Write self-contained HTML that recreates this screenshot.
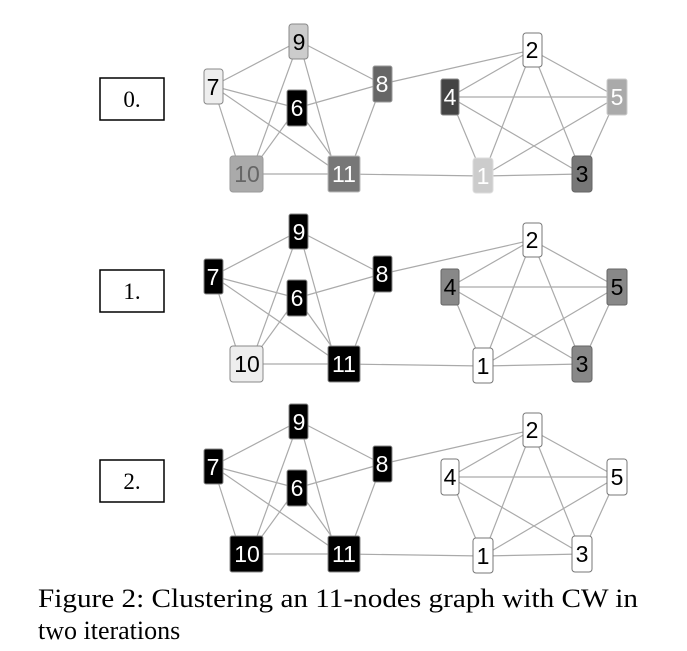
<!DOCTYPE html>
<html><head><meta charset="utf-8"><style>html,body{margin:0;padding:0;background:#fff}svg{display:block}</style></head>
<body>
<svg width="687" height="651" viewBox="0 0 687 651" xmlns="http://www.w3.org/2000/svg">
<defs>
<g id="edges" stroke="#aaa" stroke-width="1.2">
<line x1="299" y1="41" x2="213" y2="86"/><line x1="299" y1="41" x2="382" y2="84"/>
<line x1="299" y1="41" x2="252" y2="170"/><line x1="299" y1="41" x2="335" y2="170"/>
<line x1="213" y1="86" x2="297" y2="108"/><line x1="213" y1="86" x2="240" y2="170"/>
<line x1="213" y1="86" x2="335" y2="170"/><line x1="297" y1="108" x2="382" y2="84"/>
<line x1="297" y1="108" x2="252" y2="170"/><line x1="297" y1="108" x2="344" y2="174"/>
<line x1="382" y1="84" x2="350" y2="170"/><line x1="382" y1="84" x2="532" y2="50"/>
<line x1="247" y1="174" x2="344" y2="174"/><line x1="344" y1="174" x2="483" y2="176"/>
<line x1="532" y1="50" x2="450" y2="97"/><line x1="532" y1="50" x2="617" y2="97"/>
<line x1="532" y1="50" x2="483" y2="176"/><line x1="532" y1="50" x2="582" y2="174"/>
<line x1="450" y1="97" x2="617" y2="97"/><line x1="450" y1="97" x2="483" y2="176"/>
<line x1="450" y1="97" x2="582" y2="174"/><line x1="617" y1="97" x2="483" y2="176"/>
<line x1="617" y1="97" x2="582" y2="174"/><line x1="483" y1="176" x2="582" y2="174"/>
</g>
</defs>
<g font-family="Liberation Sans, sans-serif" font-size="23" text-anchor="middle">
<g>
<use href="#edges"/>
<rect x="289" y="24" width="19" height="35" rx="3" fill="#ccc" stroke="#888"/><text x="299" y="50" fill="#000">9</text>
<rect x="204" y="69" width="19" height="35" rx="3" fill="#eee" stroke="#888"/><text x="213" y="95" fill="#000">7</text>
<rect x="287" y="90" width="20" height="36" rx="2" fill="#000" stroke="#888"/><text x="297" y="116" fill="#fff">6</text>
<rect x="373" y="66" width="19" height="36" rx="2" fill="#666" stroke="#999"/><text x="382" y="92" fill="#fff">8</text>
<rect x="230" y="156" width="33" height="36" rx="3" fill="#aaa" stroke="#999"/><text x="247" y="182" fill="#666">10</text>
<rect x="328" y="156" width="32" height="36" rx="2" fill="#777" stroke="#bbb"/><text x="344" y="182" fill="#fff">11</text>
<rect x="523" y="33" width="19" height="34" rx="3" fill="#fff" stroke="#777"/><text x="532" y="58" fill="#000">2</text>
<rect x="441" y="79" width="18" height="36" rx="2" fill="#444" stroke="#888"/><text x="450" y="105" fill="#fff">4</text>
<rect x="607" y="79" width="20" height="36" rx="2" fill="#aaa" stroke="#ccc"/><text x="617" y="105" fill="#fff">5</text>
<rect x="473" y="158" width="20" height="35" rx="3" fill="#ccc" stroke="#ddd"/><text x="483" y="184" fill="#fff">1</text>
<rect x="572" y="156" width="20" height="36" rx="3" fill="#777" stroke="#666"/><text x="582" y="182" fill="#000">3</text>
</g>
<g transform="translate(0,190)">
<use href="#edges"/>
<rect x="289" y="24" width="19" height="35" rx="2" fill="#000" stroke="#888"/><text x="299" y="50" fill="#fff">9</text>
<rect x="204" y="69" width="19" height="35" rx="2" fill="#000" stroke="#888"/><text x="213" y="95" fill="#fff">7</text>
<rect x="287" y="90" width="20" height="36" rx="2" fill="#000" stroke="#888"/><text x="297" y="116" fill="#fff">6</text>
<rect x="373" y="66" width="19" height="36" rx="2" fill="#000" stroke="#888"/><text x="382" y="92" fill="#fff">8</text>
<rect x="230" y="156" width="33" height="36" rx="3" fill="#eee" stroke="#888"/><text x="247" y="182" fill="#000">10</text>
<rect x="328" y="156" width="32" height="36" rx="2" fill="#000" stroke="#888"/><text x="344" y="182" fill="#fff">11</text>
<rect x="523" y="33" width="19" height="34" rx="3" fill="#fff" stroke="#777"/><text x="532" y="58" fill="#000">2</text>
<rect x="441" y="79" width="18" height="36" rx="2" fill="#888" stroke="#666"/><text x="450" y="105" fill="#000">4</text>
<rect x="607" y="79" width="20" height="36" rx="2" fill="#888" stroke="#666"/><text x="617" y="105" fill="#000">5</text>
<rect x="473" y="158" width="20" height="35" rx="3" fill="#fff" stroke="#777"/><text x="483" y="184" fill="#000">1</text>
<rect x="572" y="156" width="20" height="36" rx="3" fill="#888" stroke="#666"/><text x="582" y="182" fill="#000">3</text>
</g>
<g transform="translate(0,380)">
<use href="#edges"/>
<rect x="289" y="24" width="19" height="35" rx="2" fill="#000" stroke="#888"/><text x="299" y="50" fill="#fff">9</text>
<rect x="204" y="69" width="19" height="35" rx="2" fill="#000" stroke="#888"/><text x="213" y="95" fill="#fff">7</text>
<rect x="287" y="90" width="20" height="36" rx="2" fill="#000" stroke="#888"/><text x="297" y="116" fill="#fff">6</text>
<rect x="373" y="66" width="19" height="36" rx="2" fill="#000" stroke="#888"/><text x="382" y="92" fill="#fff">8</text>
<rect x="230" y="156" width="33" height="36" rx="2" fill="#000" stroke="#888"/><text x="247" y="182" fill="#fff">10</text>
<rect x="328" y="156" width="32" height="36" rx="2" fill="#000" stroke="#888"/><text x="344" y="182" fill="#fff">11</text>
<rect x="523" y="33" width="19" height="34" rx="3" fill="#fff" stroke="#777"/><text x="532" y="58" fill="#000">2</text>
<rect x="441" y="79" width="18" height="36" rx="3" fill="#fff" stroke="#777"/><text x="450" y="105" fill="#000">4</text>
<rect x="607" y="79" width="20" height="36" rx="3" fill="#fff" stroke="#777"/><text x="617" y="105" fill="#000">5</text>
<rect x="473" y="158" width="20" height="35" rx="3" fill="#fff" stroke="#777"/><text x="483" y="184" fill="#000">1</text>
<rect x="572" y="156" width="20" height="36" rx="3" fill="#fff" stroke="#777"/><text x="582" y="182" fill="#000">3</text>
</g>
</g>
<g font-family="Liberation Serif, serif" font-size="23" text-anchor="middle" fill="#000">
<rect x="100" y="78" width="64" height="42" fill="#fff" stroke="#000" stroke-width="1.5"/><text x="132" y="107">0.</text>
<rect x="100" y="270" width="64" height="42" fill="#fff" stroke="#000" stroke-width="1.5"/><text x="132" y="299">1.</text>
<rect x="100" y="460" width="64" height="42" fill="#fff" stroke="#000" stroke-width="1.5"/><text x="132" y="489">2.</text>
</g>
<g font-family="Liberation Serif, serif" font-size="26" fill="#000">
<text x="38" y="607" textLength="600" lengthAdjust="spacingAndGlyphs">Figure 2: Clustering an 11-nodes graph with CW in</text>
<text x="38" y="639">two iterations</text>
</g>
</svg>
</body></html>
